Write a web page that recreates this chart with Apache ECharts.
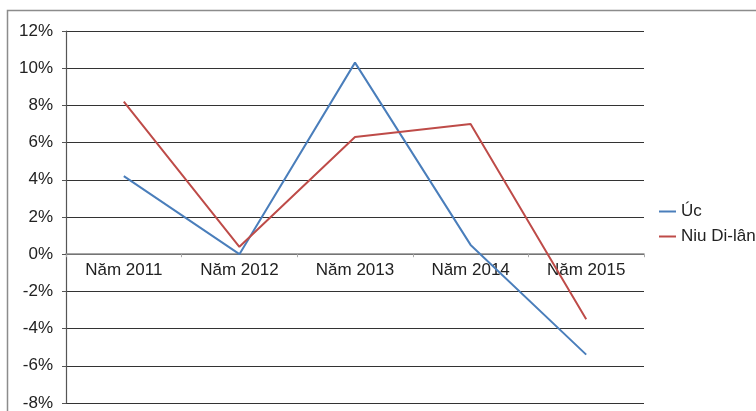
<!DOCTYPE html>
<html>
<head>
<meta charset="utf-8">
<script src="https://cdn.jsdelivr.net/npm/echarts@6/dist/echarts.min.js"></script>
<style>
  html, body { margin: 0; padding: 0; background: #fff; }
  #main { width: 756px; height: 411px; }
</style>
</head>
<body>
<div id="main"></div>
<script>
// dữ liệu tăng trưởng (%)
var categories = ['Năm 2011', 'Năm 2012', 'Năm 2013', 'Năm 2014', 'Năm 2015'];
var seriesNames = ['Úc', 'Niu Di-lân'];
var ucValues = [4.2, 0.0, 10.3, 0.5, -5.4];
var nzValues = [8.2, 0.4, 6.3, 7.0, -3.5];
var yMin = -8, yMax = 12;

var myChart = echarts.init(document.getElementById('main'));
var font = 'Liberation Sans, Arial, sans-serif';
var gridTop = 31, gridBottom = 8, chartH = 411;
var plotH = chartH - gridTop - gridBottom;
// đưa trục x lên vạch 0
var zeroOffset = -plotH * (0 - yMin) / (yMax - yMin);

var option = {
  animation: false,
  graphic: [{
    type: 'rect',
    shape: { x: 7.5, y: 10.5, width: 800, height: 500 },
    style: { fill: 'none', stroke: '#8c8c8c', lineWidth: 1.5 }
  }],
  grid: { left: 66, right: 112, top: gridTop, bottom: gridBottom, outerBoundsMode: 'none', containLabel: false },
  legend: {
    orient: 'vertical',
    left: 654,
    top: 198,
    itemWidth: 17,
    itemHeight: 2,
    itemGap: 8,
    icon: 'rect',
    textStyle: { fontFamily: font, fontSize: 17, color: '#222' },
    data: seriesNames
  },
  xAxis: {
    type: 'category',
    data: categories,
    boundaryGap: true,
    position: 'bottom',
    offset: zeroOffset,
    axisLine: { onZero: false, lineStyle: { color: '#8a8a8a', width: 1.5 } },
    axisTick: { show: true, length: 3, lineStyle: { color: '#aaa' } },
    axisLabel: { fontFamily: font, fontSize: 17, color: '#222', margin: 8 }
  },
  yAxis: {
    type: 'value',
    min: yMin,
    max: yMax,
    interval: 2,
    axisLine: { show: true, lineStyle: { color: '#555', width: 1.2 } },
    axisTick: { show: true, length: 4, lineStyle: { color: '#555' } },
    axisLabel: {
      fontFamily: font, fontSize: 17, color: '#222', margin: 13,
      formatter: function (v) { return v + '%'; }
    },
    splitLine: { show: true, lineStyle: { color: '#333', width: 1.2 } }
  },
  series: [{
    name: seriesNames[0],
    type: 'line',
    data: ucValues,
    symbol: 'none',
    z: 3,
    lineStyle: { color: '#4a7ebb', width: 2 },
    itemStyle: { color: '#4a7ebb' }
  }, {
    name: seriesNames[1],
    type: 'line',
    data: nzValues,
    symbol: 'none',
    z: 3,
    lineStyle: { color: '#be4b48', width: 2 },
    itemStyle: { color: '#be4b48' }
  }]
};

myChart.setOption(option);
</script>
</body>
</html>
